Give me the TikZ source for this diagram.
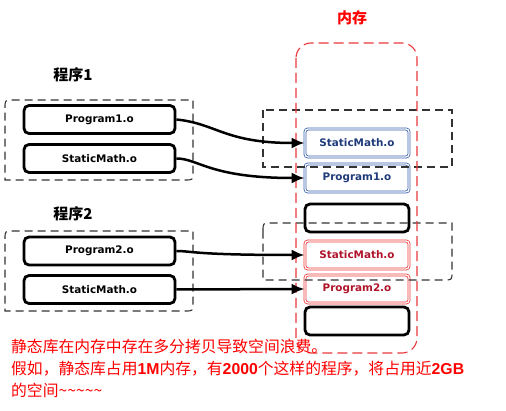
\documentclass[tikz,border=0pt]{standalone}
\usepackage{fontspec}
\setmainfont{DejaVu Sans}
\newfontfamily\cjk{Noto Sans CJK SC}
\newfontfamily\latb{Liberation Sans}
\usetikzlibrary{arrows.meta}
\definecolor{boxblue}{HTML}{3A5FB0}
\definecolor{txtblue}{HTML}{1F3A7A}
\definecolor{boxred}{HTML}{EE3A3A}
\definecolor{txtred}{HTML}{B0142A}
\definecolor{memred}{HTML}{E8383B}
\tikzset{
  lbl/.style={font=\bfseries\fontsize{10.4}{12}\selectfont},
  objbox/.style={lbl, draw=black, line width=2.8pt, rounded corners=5pt,
    minimum width=151pt, minimum height=28pt, inner sep=0pt},
  membox/.style={lbl, rounded corners=3pt, minimum width=104pt,
    minimum height=28pt, inner sep=0pt},
  bluebox/.style={membox, draw=boxblue, double=white, double distance=1.3pt,
    line width=0.8pt, text=txtblue},
  redbox/.style={membox, draw=boxred, double=white, double distance=1.3pt,
    line width=0.8pt, text=txtred},
  emptybox/.style={membox, draw=black, line width=2.8pt, rounded corners=5pt},
  grp/.style={draw=black!80, line width=1.1pt, dash pattern=on 8pt off 5pt},
  memgrp/.style={draw=memred, line width=1.1pt, dash pattern=on 10pt off 5pt,
    rounded corners=15pt},
  link/.style={line width=2.5pt, -{Latex[length=13pt,width=11pt]}},
  title/.style={font=\cjk\bfseries\fontsize{15}{18}\selectfont},
  note/.style={anchor=base west, inner sep=0pt, text=red,
    font=\cjk\fontsize{15.8}{18}\selectfont},
}
\newcommand{\lb}[1]{{\latb\bfseries #1}}
\begin{document}
\begin{tikzpicture}[x=1pt,y=-1pt]
\useasboundingbox (0,0) rectangle (506,411);

% titles
\node[title] (t1) at (73,75) {程序1};
\node[title] (t2) at (73,214) {程序2};
\node[title, text=red] (tm) at (352,18) {内存};

% program objects
\node[objbox] (p1) at (99.5,119.5) {Program1.o};
\node[objbox] (s1) at (99.5,158.5) {StaticMath.o};
\node[objbox] (p2) at (99.5,251) {Program2.o};
\node[objbox] (s2) at (99.5,289.5) {StaticMath.o};

% memory
\node[bluebox] (ms1) at (357,143) {StaticMath.o};
\node[bluebox] (mp1) at (357,178) {Program1.o};
\node[emptybox] (me1) at (357,218) {};
\node[redbox] (ms2) at (357,255) {StaticMath.o};
\node[redbox] (mp2) at (357,289) {Program2.o};
\node[emptybox] (me2) at (357,321) {};

% dashed groups
\draw[grp] (5,108) .. controls (5,100) .. (13,100) -- (193,100) -- (193,172)
  .. controls (193,180) .. (185,180) -- (5,180) -- cycle;
\draw[grp] (5,239) .. controls (5,231) .. (13,231) -- (193,231) -- (193,303)
  .. controls (193,311) .. (185,311) -- (5,311) -- cycle;
\draw[grp] (263,110) rectangle (452,167);
\draw[grp] (263,231) .. controls (263,223) .. (271,223) -- (452,223) -- (452,272)
  .. controls (452,280) .. (444,280) -- (263,280) -- cycle;
\draw[memgrp] (296,43) rectangle (417,353);

% connectors
\draw[link] (p1.east) .. controls +(40pt,-4pt) and +(-80pt,0pt) .. (ms1.west);
\draw[link] (s1.east) .. controls +(22pt,0pt) and +(-95pt,0pt) .. (mp1.west);
\draw[link] (p2.east) .. controls +(15pt,0pt) and +(-110pt,0pt) .. (ms2.west);
\draw[link] (s2.east) -- (mp2.west);

% notes
\node[note] (n1) at (11,353) {静态库在内存中存在多分拷贝导致空间浪费。};
\node[note] (n2) at (11,375) {假如，静态库占用\lb{1M}内存，有\lb{2000}个这样的程序，将占用近\lb{2GB}};
\node[note] (n3) at (11,396) {的空间\textasciitilde\textasciitilde\textasciitilde\textasciitilde\textasciitilde};
\end{tikzpicture}
\end{document}
